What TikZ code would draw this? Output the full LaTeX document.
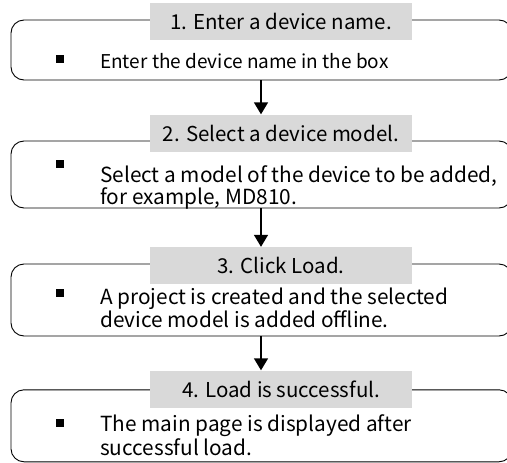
\documentclass[tikz,border=0pt]{standalone}
\usepackage{fontspec}
\setmainfont{Noto Sans CJK SC}
\usetikzlibrary{arrows.meta}
\definecolor{lblgray}{HTML}{D9D9D9}
\begin{document}
\begin{tikzpicture}[x=1pt,y=-1pt,
  frame/.style={draw=black, line width=0.9pt, rounded corners=13pt, minimum width=501pt, inner sep=0pt},
  lbl/.style={fill=lblgray, minimum width=262pt, minimum height=37pt, inner sep=0pt, font=\fontsize{20.5}{20}\selectfont},
  bul/.style={fill=black, minimum size=8pt, inner sep=0pt},
  txt/.style={anchor=base west, align=left, inner sep=0pt, font=\fontsize{20.8}{20}\selectfont},
  flow/.style={line width=1.6pt, -{Triangle[width=14pt,length=12pt]}}]
\clip (0,0) rectangle (507,463);
\useasboundingbox (0,0) rectangle (507,463);
\coordinate (ax) at (261,0);
% frames
\node[frame, minimum height=60pt] (b1) at (261.5,50) {};
\node[frame, minimum height=67pt] (b2) at (261.5,174.5) {};
\node[frame, minimum height=72pt] (b3) at (261.5,300) {};
\node[frame, minimum height=72pt] (b4) at (261.5,425.8) {};
% labels
\node[lbl] (l1) at (281,21.5) {1. Enter a device name.};
\node[lbl] (l2) at (281,133) {2. Select a device model.};
\node[lbl] (l3) at (281,265.5) {3. Click Load.};
\node[lbl] (l4) at (281,389) {4. Load is successful.};
% bullets
\node[bul] (s1) at (60,59) {};
\node[bul] (s2) at (60,164) {};
\node[bul] (s3) at (60,293) {};
\node[bul] (s4) at (60,423) {};
% texts (anchor = baseline of the last line)
\node[txt, font=\fontsize{19}{20}\selectfont] (t1) at (100,68) {Enter the device name in the box};
\node[txt] (t2) at (100,204) {Select a model of the device to be added,\\for example, MD810.};
\node[txt] (t3) at (100,327) {A project is created and the selected\\device model is added offline.};
\node[txt] (t4) at (100,455) {The main page is displayed after\\successful load.};
% arrows
\draw[flow] (b1.south -| ax) -- (l2.north -| ax);
\draw[flow] (b2.south -| ax) -- (l3.north -| ax);
\draw[flow] (b3.south -| ax) -- (l4.north -| ax);
\end{tikzpicture}
\end{document}
